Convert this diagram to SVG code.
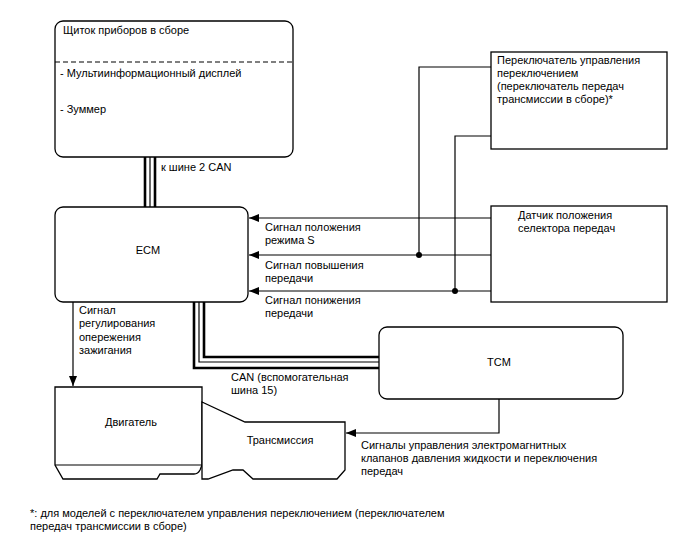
<svg xmlns="http://www.w3.org/2000/svg" width="688" height="560" viewBox="0 0 688 560">
<defs>
<marker id="arr" viewBox="0 0 10 8" refX="10" refY="4" markerWidth="10" markerHeight="8" markerUnits="userSpaceOnUse" orient="auto">
<path d="M0,0 L10,4 L0,8 Z" fill="#000"/>
</marker>
</defs>
<style>
text{font-family:"Liberation Sans",Arial,sans-serif;font-size:11px;fill:#000}
.box{fill:#fff;stroke:#000;stroke-width:1.3}
.ln{fill:none;stroke:#000;stroke-width:1.2}
.thick{fill:none;stroke:#000;stroke-width:2.6}
.thin{fill:none;stroke:#000;stroke-width:1.2}
.mid{text-anchor:middle}
</style>
<rect width="688" height="560" fill="#fff"/>

<g id="connectors">
<!-- CAN 2 bus -->
<line class="thick" x1="145" y1="157" x2="145" y2="207"/>
<line class="thin" x1="150" y1="157" x2="150" y2="207"/>
<line class="thick" x1="155" y1="157" x2="155" y2="207"/>
<!-- CAN 15 bus -->
<path class="thick" d="M194,302 V368 H379"/>
<path class="thin" d="M199,302 V362 H379"/>
<path class="thick" d="M204,302 V357 H379"/>
<!-- signals to ECM -->
<line class="ln" x1="491" y1="218" x2="249" y2="218" marker-end="url(#arr)"/>
<line class="ln" x1="491" y1="255" x2="249" y2="255" marker-end="url(#arr)"/>
<line class="ln" x1="491" y1="291" x2="249" y2="291" marker-end="url(#arr)"/>
<path class="ln" d="M491,67 H419 V255"/>
<path class="ln" d="M491,136 H455 V291"/>
<circle cx="419" cy="255" r="3"/>
<circle cx="455" cy="291" r="3"/>
<!-- ignition -->
<line class="ln" x1="73" y1="302" x2="73" y2="386" marker-end="url(#arr)"/>
<!-- TCM to transmission -->
<path class="ln" d="M499,399 V433 H346" marker-end="url(#arr)"/>
</g>

<g id="cluster">
<rect class="box" x="55" y="21" width="238" height="136" rx="8"/>
<line x1="55" y1="62" x2="293" y2="62" stroke="#000" stroke-width="1.2" stroke-dasharray="5,3"/>
<text x="63" y="34">Щиток приборов в сборе</text>
<text x="60" y="77">- Мультиинформационный дисплей</text>
<text x="60" y="113">- Зуммер</text>
</g>
<text x="161" y="171">к шине 2 CAN</text>

<g id="ecm">
<rect class="box" x="55" y="207" width="193" height="95" rx="8"/>
<text class="mid" x="148" y="254">ECM</text>
</g>

<g id="switch">
<rect class="box" x="491" y="52" width="176" height="97"/>
<text x="497" y="64">Переключатель управления</text>
<text x="497" y="77">переключением</text>
<text x="497" y="90">(переключатель передач</text>
<text x="497" y="103">трансмиссии в сборе)*</text>
</g>

<g id="sensor">
<rect class="box" x="491" y="206" width="176" height="96"/>
<text x="518" y="219">Датчик положения</text>
<text x="518" y="232">селектора передач</text>
</g>

<g id="tcm">
<rect class="box" x="379" y="327" width="244" height="72" rx="8"/>
<text class="mid" x="499" y="366">TCM</text>
</g>

<g id="engine">
<path class="box" d="M55,387 H202 V465 L200,470 Q198,474 194,474 H160 L157,479 H63 L55,465 Z"/>
<line class="ln" x1="55" y1="465" x2="202" y2="465"/>
<text class="mid" x="131" y="426">Двигатель</text>
</g>

<g id="transmission">
<path class="box" d="M202,402 L245,422 H345 V470 L337,479 H253 L243,470 H233 L208,479 H202 V402 Z"/>
<text class="mid" x="280" y="444">Трансмиссия</text>
</g>

<g id="labels">
<text x="265" y="231">Сигнал положения</text>
<text x="265" y="244">режима S</text>
<text x="265" y="269">Сигнал повышения</text>
<text x="265" y="282">передачи</text>
<text x="265" y="304">Сигнал понижения</text>
<text x="265" y="317">передачи</text>
<text x="79" y="314">Сигнал</text>
<text x="79" y="327">регулирования</text>
<text x="79" y="341">опережения</text>
<text x="79" y="354">зажигания</text>
<text x="231" y="381">CAN (вспомогательная</text>
<text x="231" y="394">шина 15)</text>
<text x="361" y="449">Сигналы управления электромагнитных</text>
<text x="361" y="462">клапанов давления жидкости и переключения</text>
<text x="361" y="475">передач</text>
<text x="30" y="517">*: для моделей с переключателем управления переключением (переключателем</text>
<text x="30" y="530">передач трансмиссии в сборе)</text>
</g>
</svg>
